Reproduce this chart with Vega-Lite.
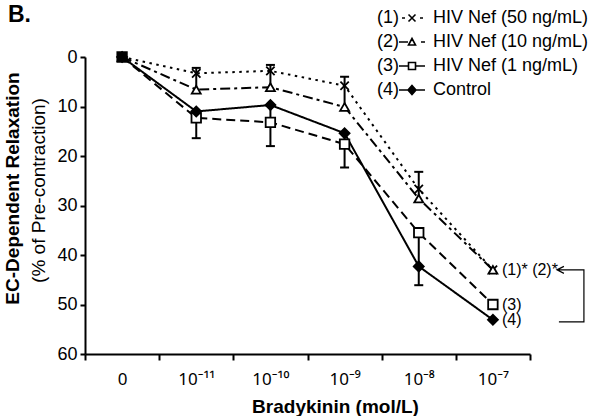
{
  "$schema": "https://vega.github.io/schema/vega-lite/v6.json",
  "width": 445,
  "height": 297,
  "autosize": {"type": "none"},
  "padding": {"left": 85, "top": 57, "right": 70, "bottom": 62},
  "background": "white",
  "config": {
    "font": "Liberation Sans",
    "view": {"stroke": null},
    "axis": {"grid": false, "domainColor": "black", "tickColor": "black", "labelColor": "black", "titleColor": "black"},
    "legend": {"labelColor": "black", "labelFont": "Liberation Sans"}
  },
  "title": {"text": "B.", "anchor": "start", "frame": "group", "fontSize": 23, "fontWeight": "bold", "color": "black", "dx": -77, "dy": 22},
  "datasets": {
    "curves": [
      {"series": "HIV Nef (50 ng/mL)", "conc": "0", "value": 0},
      {"series": "HIV Nef (50 ng/mL)", "conc": "10⁻¹¹", "value": 3.3},
      {"series": "HIV Nef (50 ng/mL)", "conc": "10⁻¹⁰", "value": 2.8},
      {"series": "HIV Nef (50 ng/mL)", "conc": "10⁻⁹", "value": 5.8},
      {"series": "HIV Nef (50 ng/mL)", "conc": "10⁻⁸", "value": 26.7},
      {"series": "HIV Nef (50 ng/mL)", "conc": "10⁻⁷", "value": 43.0},
      {"series": "HIV Nef (10 ng/mL)", "conc": "0", "value": 0},
      {"series": "HIV Nef (10 ng/mL)", "conc": "10⁻¹¹", "value": 6.6},
      {"series": "HIV Nef (10 ng/mL)", "conc": "10⁻¹⁰", "value": 6.1},
      {"series": "HIV Nef (10 ng/mL)", "conc": "10⁻⁹", "value": 10.1},
      {"series": "HIV Nef (10 ng/mL)", "conc": "10⁻⁸", "value": 28.6},
      {"series": "HIV Nef (10 ng/mL)", "conc": "10⁻⁷", "value": 43.0},
      {"series": "HIV Nef (1 ng/mL)", "conc": "0", "value": 0},
      {"series": "HIV Nef (1 ng/mL)", "conc": "10⁻¹¹", "value": 12.3},
      {"series": "HIV Nef (1 ng/mL)", "conc": "10⁻¹⁰", "value": 13.2},
      {"series": "HIV Nef (1 ng/mL)", "conc": "10⁻⁹", "value": 17.6},
      {"series": "HIV Nef (1 ng/mL)", "conc": "10⁻⁸", "value": 35.5},
      {"series": "HIV Nef (1 ng/mL)", "conc": "10⁻⁷", "value": 50.0},
      {"series": "Control", "conc": "0", "value": 0},
      {"series": "Control", "conc": "10⁻¹¹", "value": 11.0},
      {"series": "Control", "conc": "10⁻¹⁰", "value": 9.7},
      {"series": "Control", "conc": "10⁻⁹", "value": 15.4},
      {"series": "Control", "conc": "10⁻⁸", "value": 42.3},
      {"series": "Control", "conc": "10⁻⁷", "value": 53.1}
    ],
    "errors": [
      {"series": "HIV Nef (50 ng/mL)", "conc": "10⁻¹¹", "lo": 2.2, "hi": 6.6},
      {"series": "HIV Nef (50 ng/mL)", "conc": "10⁻¹⁰", "lo": 1.6, "hi": 6.1},
      {"series": "HIV Nef (50 ng/mL)", "conc": "10⁻⁹", "lo": 4.0, "hi": 10.1},
      {"series": "HIV Nef (50 ng/mL)", "conc": "10⁻⁸", "lo": 23.2, "hi": 28.6},
      {"series": "HIV Nef (1 ng/mL)", "conc": "10⁻¹¹", "lo": 11.0, "hi": 16.4},
      {"series": "HIV Nef (1 ng/mL)", "conc": "10⁻¹⁰", "lo": 9.7, "hi": 18.0},
      {"series": "HIV Nef (1 ng/mL)", "conc": "10⁻⁹", "lo": 15.4, "hi": 22.3},
      {"series": "HIV Nef (1 ng/mL)", "conc": "10⁻⁸", "lo": 35.5, "hi": 46.1}
    ],
    "notes": [
      {"conc": "10⁻⁷", "value": 43.0, "note": "(1)* (2)*"},
      {"conc": "10⁻⁷", "value": 50.0, "note": "(3)"},
      {"conc": "10⁻⁷", "value": 53.1, "note": "(4)"}
    ],
    "keys": [
      {"series": "HIV Nef (50 ng/mL)"},
      {"series": "HIV Nef (10 ng/mL)"},
      {"series": "HIV Nef (1 ng/mL)"},
      {"series": "Control"}
    ]
  },
  "resolve": {"scale": {"y": "independent", "shape": "independent", "fill": "independent"}},
  "encoding": {
    "x": {
      "field": "conc", "type": "ordinal", "title": "Bradykinin (mol/L)",
      "scale": {"type": "band", "domain": ["0", "10⁻¹¹", "10⁻¹⁰", "10⁻⁹", "10⁻⁸", "10⁻⁷"], "paddingInner": 0, "paddingOuter": 0},
      "axis": {"labelAngle": 0, "labelFont": "Noto Sans", "labelFontSize": 17, "labelPadding": 11, "tickBand": "extent", "tickSize": 6, "tickWidth": 2, "domainWidth": 2, "titleFontSize": 19, "titleFontWeight": "bold", "titleX": 250, "titleY": 58, "titleAlign": "center", "titleBaseline": "alphabetic", "labelFlush": false}
    }
  },
  "layer": [
    {
      "data": {"name": "curves"},
      "mark": {"type": "line", "color": "black", "strokeWidth": 2},
      "encoding": {
        "y": {
          "field": "value", "type": "quantitative", "title": "EC-Dependent Relaxation",
          "scale": {"domain": [0, 60], "reverse": true, "nice": false, "zero": false},
          "axis": {"values": [0, 10, 20, 30, 40, 50, 60], "labelFontSize": 18, "labelPadding": 3, "tickSize": 5, "tickWidth": 2, "domainWidth": 2, "titleFontSize": 19, "titleFontWeight": "bold", "titleX": -67, "titleY": 131, "titleAngle": -90, "titleAlign": "center", "titleBaseline": "alphabetic", "labelFlush": false}
        },
        "strokeDash": {
          "field": "series", "type": "nominal",
          "scale": {"domain": ["HIV Nef (50 ng/mL)", "HIV Nef (10 ng/mL)", "HIV Nef (1 ng/mL)", "Control"], "range": [[2.5, 4.5], [10, 4, 3, 4], [9, 5], [1, 0]]},
          "legend": {"title": null, "orient": "none", "legendX": 274, "legendY": -48, "direction": "vertical", "symbolSize": 4, "symbolOpacity": 0, "labelOffset": 0, "labelFontSize": 18, "rowPadding": 6, "padding": 0,
            "labelExpr": "datum.label == 'Control' ? '(4)' : datum.label == 'HIV Nef (1 ng/mL)' ? '(3)' : datum.label == 'HIV Nef (10 ng/mL)' ? '(2)' : '(1)'"}
        }
      }
    },
    {
      "data": {"name": "errors"},
      "mark": {"type": "rule", "color": "black", "strokeWidth": 2},
      "encoding": {
        "y": {"field": "lo", "type": "quantitative", "scale": {"domain": [0, 60], "reverse": true, "nice": false, "zero": false}, "axis": null},
        "y2": {"field": "hi"}
      }
    },
    {
      "data": {"name": "errors"},
      "transform": [{"filter": "datum.series === 'HIV Nef (50 ng/mL)'"}],
      "mark": {"type": "tick", "color": "black", "size": 9, "thickness": 2, "orient": "horizontal", "opacity": 1},
      "encoding": {
        "y": {"field": "lo", "type": "quantitative", "scale": {"domain": [0, 60], "reverse": true, "nice": false, "zero": false}, "axis": null}
      }
    },
    {
      "data": {"name": "errors"},
      "transform": [{"filter": "datum.series === 'HIV Nef (1 ng/mL)'"}],
      "mark": {"type": "tick", "color": "black", "size": 9, "thickness": 2, "orient": "horizontal", "opacity": 1},
      "encoding": {
        "y": {"field": "hi", "type": "quantitative", "scale": {"domain": [0, 60], "reverse": true, "nice": false, "zero": false}, "axis": null}
      }
    },
    {
      "data": {"name": "curves"},
      "mark": {"type": "point", "filled": true, "stroke": "black", "strokeWidth": 1.8, "opacity": 1},
      "encoding": {
        "y": {"field": "value", "type": "quantitative", "scale": {"domain": [0, 60], "reverse": true, "nice": false, "zero": false}, "axis": null},
        "shape": {
          "field": "series", "type": "nominal",
          "scale": {"domain": ["HIV Nef (50 ng/mL)", "HIV Nef (10 ng/mL)", "HIV Nef (1 ng/mL)", "Control"], "range": ["M-1,-1L1,1M1,-1L-1,1", "triangle-up", "square", "diamond"]},
          "legend": null
        },
        "fill": {
          "field": "series", "type": "nominal",
          "condition": {"test": "datum.conc === '0'", "value": "black"},
          "scale": {"domain": ["HIV Nef (50 ng/mL)", "HIV Nef (10 ng/mL)", "HIV Nef (1 ng/mL)", "Control"], "range": ["white", "white", "white", "black"]},
          "legend": null
        },
        "size": {
          "field": "series", "type": "ordinal",
          "scale": {"domain": ["HIV Nef (50 ng/mL)", "HIV Nef (10 ng/mL)", "HIV Nef (1 ng/mL)", "Control"], "range": [70, 100, 100, 120]},
          "legend": null
        }
      }
    },
    {
      "data": {"name": "notes"},
      "mark": {"type": "text", "align": "left", "baseline": "middle", "dx": 9, "fontSize": 16, "color": "black"},
      "encoding": {
        "y": {
          "field": "value", "type": "quantitative", "title": "(% of Pre-contraction)",
          "scale": {"domain": [0, 60], "reverse": true, "nice": false, "zero": false},
          "axis": {"orient": "left", "titleFontSize": 19, "titleFontWeight": "normal", "titleX": -41, "titleY": 133, "titleAngle": -90, "titleAlign": "center", "titleBaseline": "alphabetic", "domain": false, "ticks": false, "labels": false}
        },
        "text": {"field": "note"}
      }
    },
    {
      "data": {"name": "notes"},
      "transform": [{"filter": "datum.note === '(1)* (2)*'"}],
      "mark": {"type": "point", "shape": "M64,0H91V52H66M71,-3.5L64,0L71,3.5", "size": 4, "filled": false, "color": "black", "strokeWidth": 1.2, "opacity": 1},
      "encoding": {
        "y": {"field": "value", "type": "quantitative", "scale": {"domain": [0, 60], "reverse": true, "nice": false, "zero": false}, "axis": null}
      }
    },
    {
      "data": {"name": "keys"},
      "transform": [{"filter": "false"}],
      "mark": {"type": "point", "filled": true, "stroke": "black", "strokeWidth": 1.6, "opacity": 1},
      "encoding": {
        "shape": {
          "field": "series", "type": "nominal",
          "scale": {"domain": ["HIV Nef (50 ng/mL)", "HIV Nef (10 ng/mL)", "HIV Nef (1 ng/mL)", "Control"], "range": ["M-10,0H-7M-3.5,-3.5L3.5,3.5M3.5,-3.5L-3.5,3.5M8,0H11", "M-13,0H-4M-3.5,3L0,-3.5L3.5,3ZM9,0H13", "M-13,0H-3.5M-3.5,-3.5H3.5V3.5H-3.5ZM3.5,0H13", "M-13,0H-4M4,0H13M0,-4.5L4,0L0,4.5L-4,0Z"]},
          "legend": {"title": null, "orient": "none", "legendX": 318, "legendY": -48, "direction": "vertical", "symbolSize": 4, "symbolStrokeWidth": 1.6, "labelOffset": 12, "labelFontSize": 18, "labelLimit": 400, "rowPadding": 6, "padding": 0}
        },
        "fill": {
          "field": "series", "type": "nominal",
          "scale": {"domain": ["HIV Nef (50 ng/mL)", "HIV Nef (10 ng/mL)", "HIV Nef (1 ng/mL)", "Control"], "range": ["white", "white", "white", "black"]},
          "legend": {"title": null, "orient": "none", "legendX": 318, "legendY": -48, "direction": "vertical", "symbolSize": 4, "symbolStrokeWidth": 1.6, "labelOffset": 12, "labelFontSize": 18, "labelLimit": 400, "rowPadding": 6, "padding": 0}
        }
      }
    }
  ]
}
